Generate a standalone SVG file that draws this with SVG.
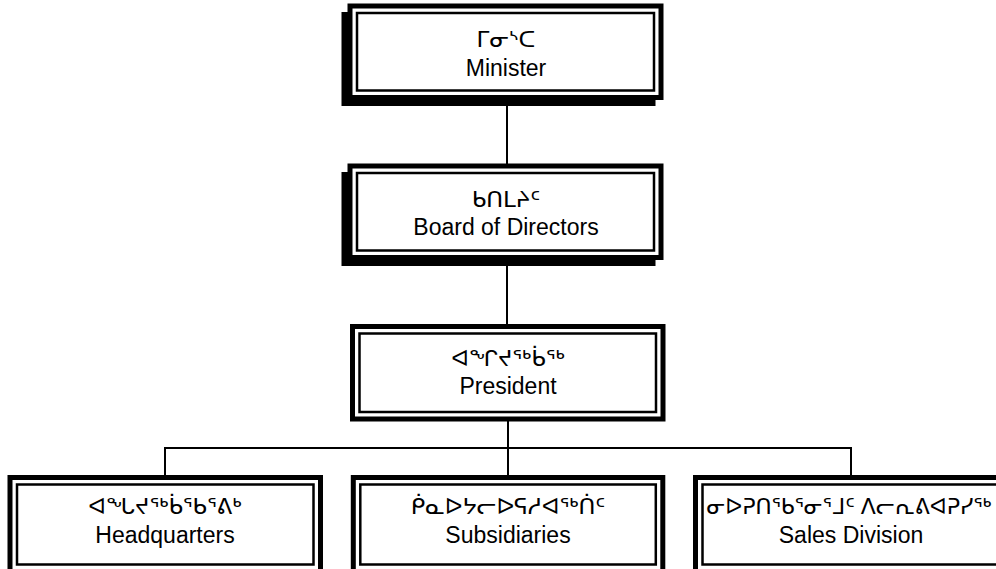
<svg xmlns="http://www.w3.org/2000/svg" width="996" height="569" viewBox="0 0 996 569">
  <style>
    .bg { fill: #ffffff; }
    .shadow { fill: #000000; }
    .frame { fill: #ffffff; stroke: #000000; stroke-width: 5; }
    .inner { fill: none; stroke: #000000; stroke-width: 2.5; }
    .link { fill: none; stroke: #000000; stroke-width: 2; }
    .label { font-family: "Liberation Sans", "DejaVu Sans", Arial, sans-serif; font-size: 23px; fill: #000000; text-anchor: middle; }
    .long { font-size: 22px; }
  </style>
  <rect class="bg" x="0" y="0" width="996" height="569"/>

  <!-- connectors -->
  <g id="connectors">
    <line class="link" x1="507" y1="99" x2="507" y2="165"/>
    <line class="link" x1="507" y1="259" x2="507" y2="325"/>
    <line class="link" x1="508" y1="420" x2="508" y2="476"/>
    <polyline class="link" points="165,476 165,448 851,448 851,476"/>
  </g>

  <!-- top: minister -->
  <g id="minister">
    <rect class="shadow" x="341.5" y="12" width="314" height="94"/>
    <rect class="frame" x="350" y="6" width="311" height="91.5"/>
    <rect class="inner" x="357" y="13" width="297" height="77.5"/>
    <text class="label" x="506" y="47">ᒥᓂᔅᑕ</text>
    <text class="label" x="506" y="76">Minister</text>
  </g>

  <!-- board of directors -->
  <g id="board">
    <rect class="shadow" x="341.5" y="172" width="314" height="94"/>
    <rect class="frame" x="350" y="166" width="311" height="91.5"/>
    <rect class="inner" x="357" y="173" width="297" height="77.5"/>
    <text class="label" x="506" y="207">ᑲᑎᒪᔨᑦ</text>
    <text class="label" x="506" y="235">Board of Directors</text>
  </g>

  <!-- president -->
  <g id="president">
    <rect class="frame" x="352.5" y="326.5" width="310.5" height="92.5"/>
    <rect class="inner" x="359.5" y="333.5" width="296.5" height="78.5"/>
    <text class="label" x="508" y="366">ᐊᖏᔪᖅᑳᖅ</text>
    <text class="label" x="508" y="394">President</text>
  </g>

  <!-- bottom row -->
  <g id="headquarters">
    <rect class="frame" x="10" y="477.5" width="310.5" height="94"/>
    <rect class="inner" x="17" y="484.5" width="296.5" height="80"/>
    <text class="label" x="165" y="514">ᐊᖓᔪᖅᑳᖃᕐᕕᒃ</text>
    <text class="label" x="165" y="543">Headquarters</text>
  </g>

  <g id="subsidiaries">
    <rect class="frame" x="353.3" y="477.5" width="309.5" height="94"/>
    <rect class="inner" x="360.3" y="484.5" width="295.5" height="80"/>
    <text class="label" x="508" y="514">ᑮᓇᐅᔭᓕᐅᕋᓱᐊᖅᑏᑦ</text>
    <text class="label" x="508" y="543">Subsidiaries</text>
  </g>

  <g id="sales">
    <rect class="frame" x="695.5" y="477.5" width="310.5" height="94"/>
    <rect class="inner" x="702.5" y="484.5" width="296.5" height="80"/>
    <text class="label long" x="849" y="514">ᓂᐅᕈᑎᖃᕐᓂᕐᒧᑦ  ᐱᓕᕆᕕᐊᕈᓯᖅ</text>
    <text class="label" x="851" y="543">Sales Division</text>
  </g>
</svg>
